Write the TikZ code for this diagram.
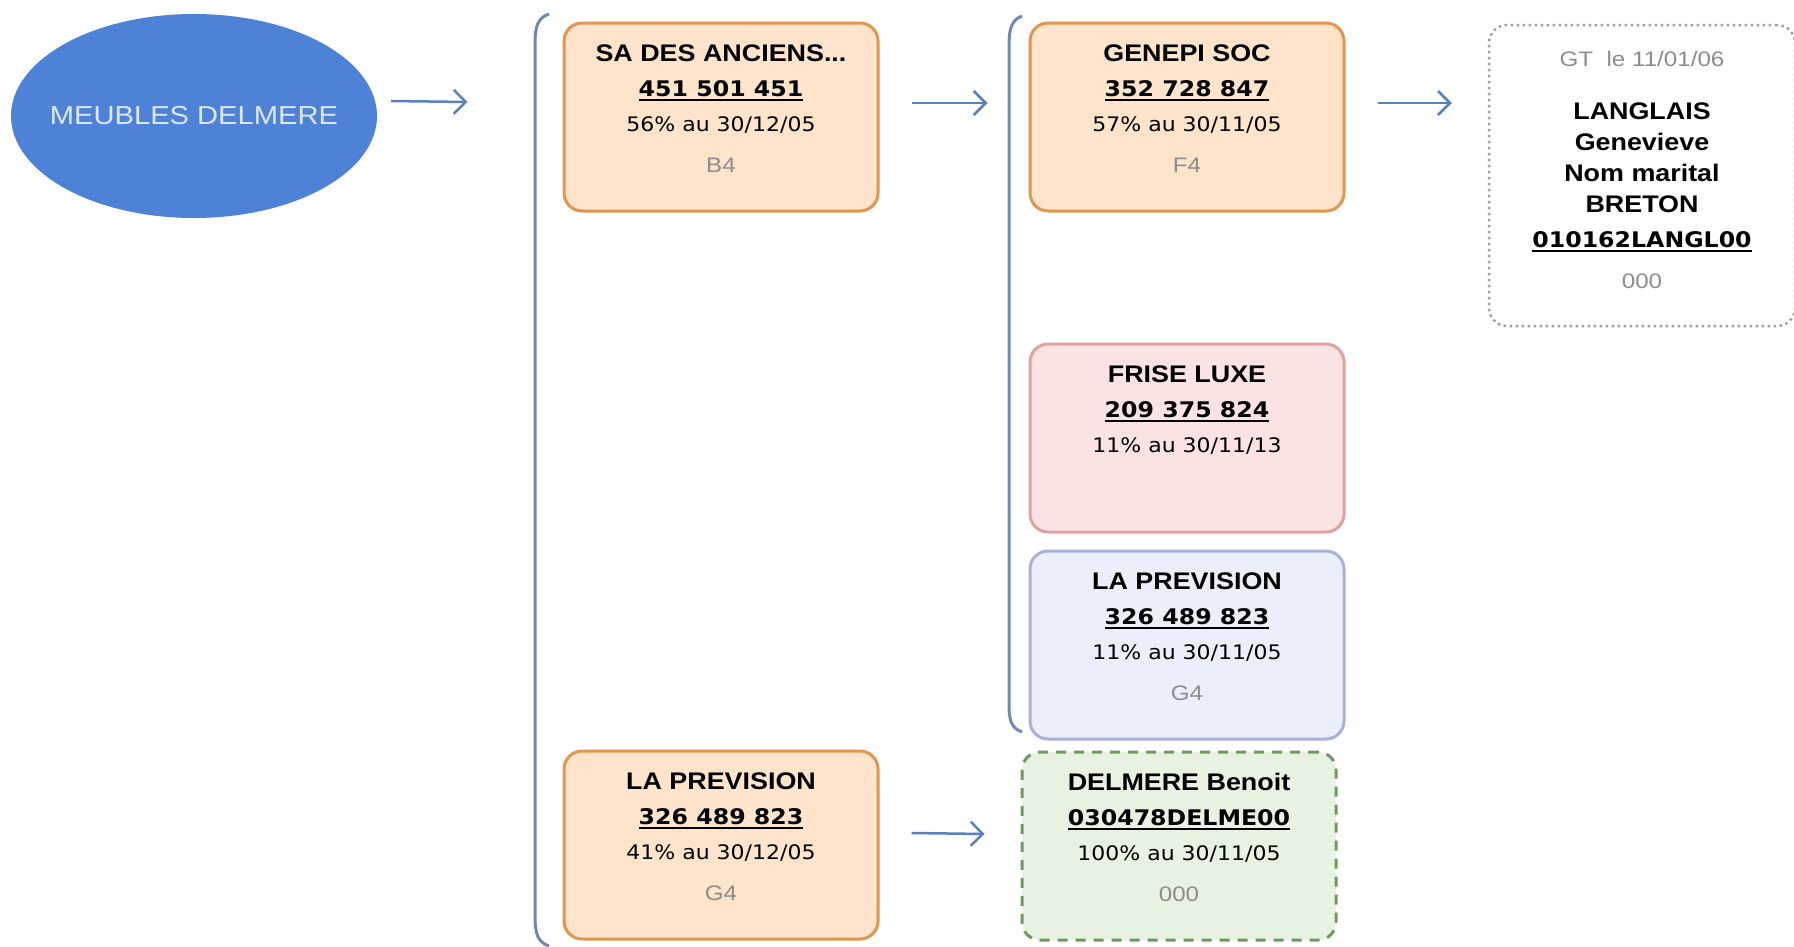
\documentclass[tikz,border=0pt]{standalone}
\usepackage{fontspec}
\setmainfont{Liberation Sans}
\newfontfamily\namefont{Liberation Sans}[FakeStretch=1.12]
\newfontfamily\idfont{DejaVu Sans}[FakeStretch=1.1]
\newfontfamily\codefont{Liberation Sans}[FakeStretch=1.15]
\usetikzlibrary{positioning,arrows.meta,shapes.geometric}

\definecolor{rootblue}{HTML}{4D82D6}
\definecolor{roottext}{HTML}{DCE8F8}
\definecolor{linkblue}{HTML}{5A80BE}
\definecolor{bracketblue}{HTML}{6F89B3}
\definecolor{codegray}{HTML}{8C8C8C}
\definecolor{orgfill}{HTML}{FDE4CA}
\definecolor{orgline}{HTML}{E0964F}
\definecolor{redfill}{HTML}{FCE3E3}
\definecolor{redline}{HTML}{E2A0A0}
\definecolor{bluefill}{HTML}{EBEFFB}
\definecolor{blueline}{HTML}{A8B2D8}
\definecolor{greenfill}{HTML}{E7F2E1}
\definecolor{greenline}{HTML}{6E9A62}
\definecolor{dotline}{HTML}{93A793}

\newcommand{\idline}[1]{\leavevmode\setbox0\hbox{#1}\rlap{\rule[-4.5pt]{\wd0}{1.8pt}}\box0}
\newcommand{\firm}[4]{\parbox[c][147pt][t]{290pt}{\centering\parskip=0pt\baselineskip=35pt
		\rule{0pt}{18pt}{\namefont\bfseries\fontsize{24}{35}\selectfont #1}\par
		{\idfont\bfseries\fontsize{21.5}{35}\selectfont\idline{#2}}\par
		{\idfont\fontsize{20}{35}\selectfont #3}\par\vspace{6pt}
		{\codefont\color{codegray}\fontsize{21}{35}\selectfont #4}\par}}

\tikzset{
		firmbox/.style   = {shape=rectangle, rounded corners=18pt,
				draw, line width=3pt, inner sep=0pt,
				minimum width=314pt, minimum height=188pt},
		holding/.style   = {firmbox, fill=orgfill, draw=orgline},
		partner/.style   = {firmbox, fill=redfill, draw=redline},
		minority/.style  = {firmbox, fill=bluefill, draw=blueline},
		person/.style    = {firmbox, fill=greenfill, draw=greenline,
				dash pattern=on 10pt off 8pt},
		manager/.style   = {firmbox, fill=white, draw=dotline,
				line width=2.5pt, dash pattern=on 2.5pt off 3.5pt,
				minimum width=306pt, minimum height=301pt},
		rootnode/.style  = {ellipse, fill=rootblue, inner sep=0pt,
				minimum width=366pt, minimum height=204pt,
				text=roottext, font=\namefont\fontsize{26}{30}\selectfont},
		link/.style      = {draw=linkblue, line width=2.5pt,
				-{Straight Barb[length=12pt,width=24pt,line width=2.5pt]}},
		bracket/.style   = {draw=bracketblue, line width=3pt}
	}

\begin{document}
\begin{tikzpicture}[x=1pt, y=-1pt]
	\fill[white] (0,0) rectangle (1794,946);
	\useasboundingbox (0,0) rectangle (1794,946);

	\node[rootnode] (root) at (194,116) {\makebox[0pt]{MEUBLES DELMERE}};

	\node[holding] (anciens) at (721,117)
		{\firm{SA DES ANCIENS...}{451 501 451}{56\% au 30/12/05}{B4}};
	\node[holding, right=149pt of anciens] (genepi)
		{\firm{GENEPI SOC}{352 728 847}{57\% au 30/11/05}{F4}};
	\node[partner, below=130pt of genepi] (frise)
		{\firm{FRISE LUXE}{209 375 824}{11\% au 30/11/13}{}};
	\node[minority, below=16pt of frise] (prevA)
		{\firm{LA PREVISION}{326 489 823}{11\% au 30/11/05}{G4}};
	\node[holding] (prevB) at (721,845)
		{\firm{LA PREVISION}{326 489 823}{41\% au 30/12/05}{G4}};
	\node[person] (delmere) at (1179,846)
		{\firm{DELMERE Benoit}{030478DELME00}{100\% au 30/11/05}{000}};

	\node[manager] (langlais) at (1642,175.5)
		{\parbox[c][251pt][t]{290pt}{\centering\parskip=0pt\baselineskip=31pt
			\rule{0pt}{16pt}{\codefont\color{codegray}\fontsize{21}{31}\selectfont GT\ \ le 11/01/06}\par\vspace{22.5pt}
			{\namefont\bfseries\fontsize{24}{31}\selectfont LANGLAIS\par Genevieve\par Nom marital\par BRETON\par}\vspace{4pt}
			{\idfont\bfseries\fontsize{21.5}{31}\selectfont\idline{010162LANGL00}}\par\vspace{9.5pt}
			{\codefont\color{codegray}\fontsize{21}{31}\selectfont 000}\par}};

	\draw[bracket] (549,14) .. controls (537,18) and (535,28) .. (535,44)
		-- (535,916) .. controls (535,932) and (537,942) .. (549,946);
	\draw[bracket] (1022,16) .. controls (1011,20) and (1009,30) .. (1009,46)
		-- (1009,704) .. controls (1009,720) and (1011,728) .. (1022,732);

	\draw[link] ([xshift=14pt,yshift=15pt]root.east) -- ([xshift=-95pt,yshift=15pt]anciens.west);
	\draw[link] ([xshift=32pt,yshift=14pt]anciens.east) -- ([xshift=-41pt,yshift=14pt]genepi.west);
	\draw[link] ([xshift=32pt,yshift=14pt]genepi.east) -- ([xshift=-36pt,yshift=14pt]langlais.west |- genepi.west);
	\draw[link] ([xshift=32pt,yshift=12pt]prevB.east) -- ([xshift=-36pt,yshift=12pt]delmere.west);
\end{tikzpicture}
\end{document}
